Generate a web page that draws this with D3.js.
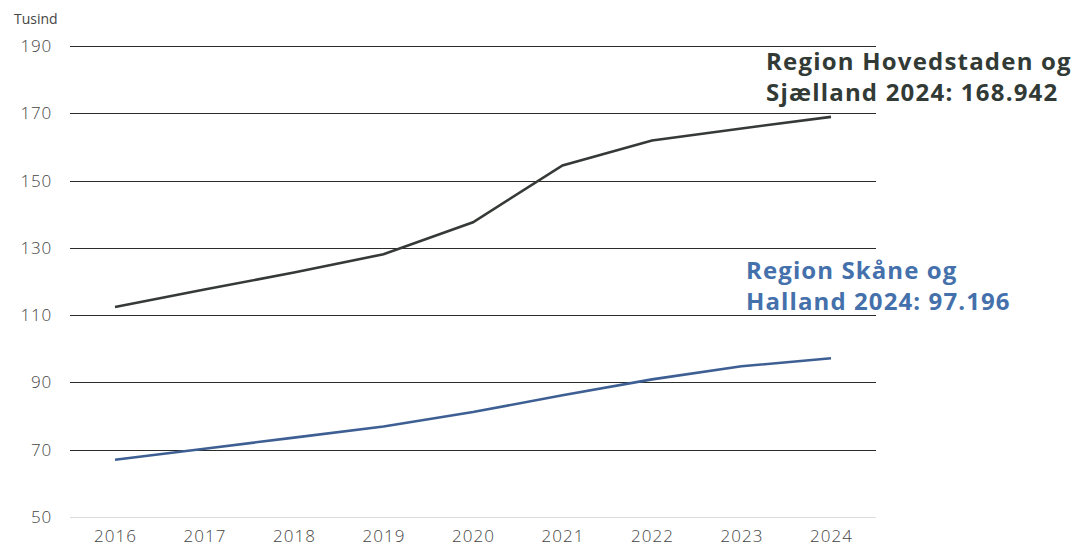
<!DOCTYPE html>
<html>
<head>
<meta charset="utf-8">
<script src="https://cdn.jsdelivr.net/npm/d3@7"></script>
<style>
  body { margin: 0; background: #fff; }
  svg { font-family: "Open Sans", sans-serif; }
</style>
</head>
<body>
<script>
// data (tusind)
const years = [2016, 2017, 2018, 2019, 2020, 2021, 2022, 2023, 2024];
const hovedstaden = [112.4, 117.6, 122.7, 128.1, 137.6, 154.5, 161.9, 165.5, 168.942];
const skaane = [67.0, 70.3, 73.6, 76.9, 81.2, 86.2, 90.9, 94.8, 97.196];
const yTicks = [50, 70, 90, 110, 130, 150, 170, 190];
const unitLabel = "Tusind";
const labelHoved = ["Region Hovedstaden og", "Sjælland 2024: 168.942"];
const labelSkaane = ["Region Skåne og", "Halland 2024: 97.196"];

const width = 1073, height = 546;
const gridLeft = 70, gridRight = 876;

const svg = d3.select("body").append("svg")
    .attr("width", width)
    .attr("height", height);

const x = d3.scaleLinear().domain([2016, 2024]).range([115, 831]);
const y = d3.scaleLinear().domain([50, 190]).range([517, 46]);

// gridlines
svg.append("g").selectAll("line").data(yTicks).enter()
    .append("line")
    .attr("x1", gridLeft).attr("x2", gridRight)
    .attr("y1", d => Math.round(y(d)) + 0.5)
    .attr("y2", d => Math.round(y(d)) + 0.5)
    .attr("stroke", d => d === 50 ? "#dcdcdc" : "#2b2b2b")
    .attr("stroke-width", 1);

// y axis labels
const yaxis = d3.axisLeft(y).tickValues(yTicks).tickSize(0).tickPadding(0);
svg.append("g")
    .attr("transform", "translate(52,0)")
    .call(yaxis)
    .call(g => g.select(".domain").remove())
    .selectAll("text")
    .attr("font-size", "17px")
    .attr("font-family", "Open Sans, sans-serif")
    .attr("font-weight", 300)
    .attr("letter-spacing", "0.8px")
    .attr("fill", "#444");

// x axis labels
const xaxis = d3.axisBottom(x).tickValues(years).tickFormat(d3.format("d")).tickSize(0).tickPadding(0);
svg.append("g")
    .attr("transform", "translate(0,530)")
    .call(xaxis)
    .call(g => g.select(".domain").remove())
    .selectAll("text")
    .attr("font-size", "17px")
    .attr("font-family", "Open Sans, sans-serif")
    .attr("font-weight", 300)
    .attr("letter-spacing", "1px")
    .attr("fill", "#444");

svg.append("text")
    .attr("x", 14).attr("y", 24)
    .attr("font-size", "14px")
    .attr("fill", "#444")
    .text(unitLabel);

const line = d3.line()
    .x((d, i) => x(years[i]))
    .y(d => y(d));

svg.append("path")
    .datum(hovedstaden)
    .attr("d", line)
    .attr("fill", "none")
    .attr("stroke", "#353a37")
    .attr("stroke-width", 2.6);

svg.append("path")
    .datum(skaane)
    .attr("d", line)
    .attr("fill", "none")
    .attr("stroke", "#3e5f93")
    .attr("stroke-width", 2.6);

// end labels
svg.append("text")
    .attr("x", 766).attr("y", 70)
    .attr("font-size", "24px").attr("font-weight", "bold")
    .attr("letter-spacing", "1.2px")
    .attr("fill", "#323a36")
    .selectAll("tspan").data(labelHoved).enter()
    .append("tspan")
    .attr("x", 766)
    .attr("dy", (d, i) => i === 0 ? 0 : 31)
    .text(d => d);

svg.append("text")
    .attr("x", 746).attr("y", 279)
    .attr("font-size", "24px").attr("font-weight", "bold")
    .attr("letter-spacing", "1.1px")
    .attr("fill", "#4470ab")
    .selectAll("tspan").data(labelSkaane).enter()
    .append("tspan")
    .attr("x", 746)
    .attr("dy", (d, i) => i === 0 ? 0 : 31)
    .text(d => d);
</script>
</body>
</html>
